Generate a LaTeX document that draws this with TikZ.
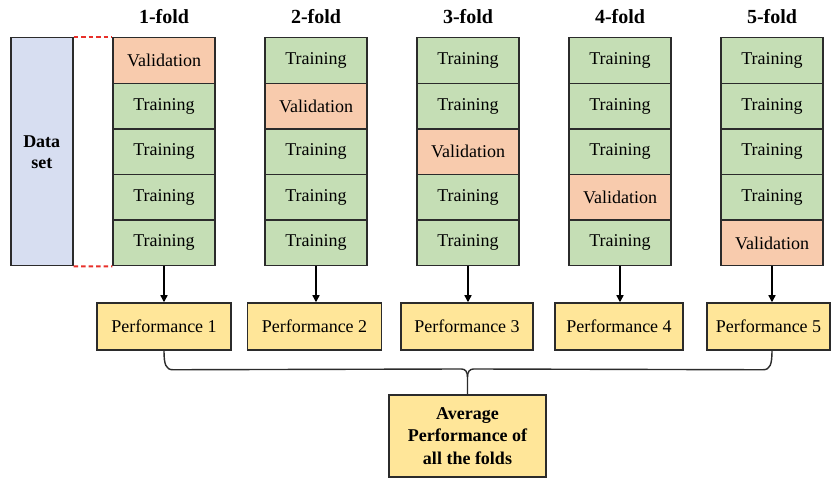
\documentclass[tikz,border=0pt]{standalone}
\usepackage{fontspec}
\setmainfont{Liberation Serif}
\usetikzlibrary{calc,arrows.meta}
\definecolor{valc}{HTML}{F8CBAD}
\definecolor{trc}{HTML}{C5DEB5}
\definecolor{perfc}{HTML}{FFE699}
\definecolor{datac}{HTML}{D7DEF1}
\definecolor{edgec}{HTML}{2B2B2B}
\definecolor{dashc}{HTML}{E8302A}
\begin{document}
\begin{tikzpicture}[x=1pt,y=-1pt,
  box/.style={draw=edgec, line width=1.5pt, inner sep=0pt},
  cell/.style={box, minimum width=102pt, minimum height=45.6pt, anchor=north, font=\fontsize{18}{20}\selectfont},
  perf/.style={box, fill=perfc, minimum height=47pt, font=\fontsize{18}{20}\selectfont},
  foldtitle/.style={font=\bfseries\fontsize{20}{22}\selectfont},
  arr/.style={draw=black, line width=1.4pt, -{Triangle[length=7pt,width=7pt]}},
  connector/.style={draw=edgec, line width=1.4pt},
  reddash/.style={draw=dashc, line width=2pt, dash pattern=on 4.5pt off 3pt}]
\useasboundingbox (0,0) rectangle (831,478);

\node[box, fill=datac, minimum width=62pt, minimum height=228pt, anchor=north west,
      align=center, font=\bfseries\fontsize{18}{21}\selectfont] (d) at (10,37) {Data\\set};

\foreach \i in {1,...,5}{
  \node[foldtitle] (t\i) at ({164+152*(\i-1)},17) {\i-fold};
  \foreach \j in {1,...,5}{
    \ifnum\i=\j
      \node[cell, fill=valc] (f\i r\j) at ({164+152*(\i-1)},{37+45.6*(\j-1)}) {Validation};
    \else
      \node[cell, fill=trc] (f\i r\j) at ({164+152*(\i-1)},{37+45.6*(\j-1)}) {Training};
    \fi
  }
}

\node[perf, minimum width=134pt] (p1) at (164,326.5) {Performance 1};
\node[perf, minimum width=134pt] (p2) at (314.5,326.5) {Performance 2};
\node[perf, minimum width=132pt] (p3) at (467,326.5) {Performance 3};
\node[perf, minimum width=128pt] (p4) at (619,326.5) {Performance 4};
\node[perf, minimum width=123pt] (p5) at (768.5,326.5) {Performance 5};

\foreach \i in {1,...,5}{
  \draw[arr] (f\i r5.south) -- (f\i r5.south |- p\i.north);
}

\draw[reddash] (d.north east) -- (f1r1.north west);
\draw[reddash] (d.south east) -- (f1r5.south west);

\node[box, fill=perfc, minimum width=157pt, minimum height=82pt, align=center,
      font=\bfseries\fontsize{18}{22.5}\selectfont] (avg) at (467.5,436)
      {Average\\Performance of\\all the folds};

\coordinate (m) at (avg.north |- 0,377);
\draw[connector] (f1r5.south |- p1.south) .. controls +(0,14) and +(-7,0) .. ++(9,19)
   -- ($(m)+(-6,-8)$) .. controls +(4,0) and +(0,-5) .. (m) -- (avg.north);
\draw[connector] (f5r5.south |- p5.south) .. controls +(0,14) and +(7,0) .. ++(-9,19)
   -- ($(m)+(6,-8)$) .. controls +(-4,0) and +(0,-5) .. (m);
\end{tikzpicture}
\end{document}
